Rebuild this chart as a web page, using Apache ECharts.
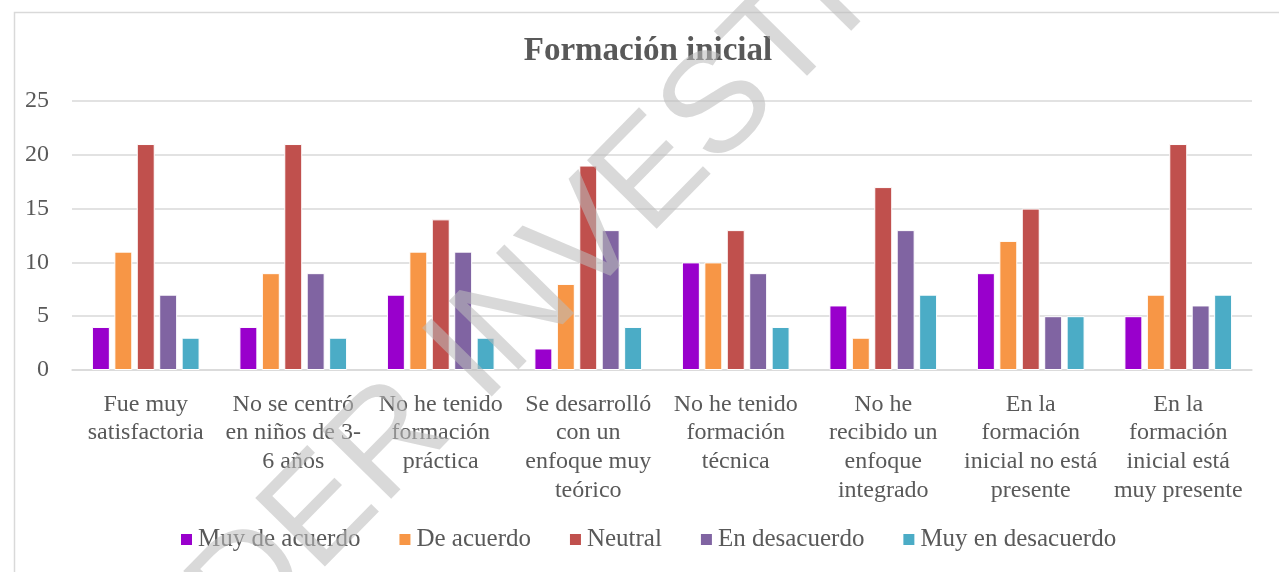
<!DOCTYPE html>
<html>
<head>
<meta charset="utf-8">
<script src="https://cdn.jsdelivr.net/npm/echarts@6/dist/echarts.min.js"></script>
<style>
html,body{margin:0;padding:0;background:#fff;}
#c{width:1279px;height:572px;}
</style>
</head>
<body>
<div id="c"></div>
<script>
const titleText = 'Formación inicial';
const categories = [
  'Fue muy\nsatisfactoria',
  'No se centró\nen niños de 3-\n6 años',
  'No he tenido\nformación\npráctica',
  'Se desarrolló\ncon un\nenfoque muy\nteórico',
  'No he tenido\nformación\ntécnica',
  'No he\nrecibido un\nenfoque\nintegrado',
  'En la\nformación\ninicial no está\npresente',
  'En la\nformación\ninicial está\nmuy presente'
];
const seriesNames = ['Muy de acuerdo', 'De acuerdo', 'Neutral', 'En desacuerdo', 'Muy en desacuerdo'];
const muyDeAcuerdo    = [4, 4, 7, 2, 10, 6, 9, 5];
const deAcuerdo       = [11, 9, 11, 8, 10, 3, 12, 7];
const neutral         = [21, 21, 14, 19, 13, 17, 15, 21];
const enDesacuerdo    = [7, 9, 11, 13, 9, 13, 5, 6];
const muyEnDesacuerdo = [3, 3, 3, 4, 4, 7, 5, 7];
const yTicks = [0, 5, 10, 15, 20, 25];
const watermarkText = 'DER INVESTIG';

const colors = ['#9900cc', '#f79646', '#c0504d', '#8064a2', '#4bacc6'];
const values = [muyDeAcuerdo, deAcuerdo, neutral, enDesacuerdo, muyEnDesacuerdo];
const FONT = '"Liberation Serif", serif';
const TXT = '#595959';

const chart = echarts.init(document.getElementById('c'), null, {renderer: 'canvas'});
chart.setOption({
  animation: false,
  backgroundColor: '#fff',
  color: colors,
  title: {
    text: titleText,
    left: 643, top: 30, textAlign: 'center',
    textStyle: {fontFamily: FONT, fontSize: 33, fontWeight: 'bold', color: TXT}
  },
  legend: {
    data: seriesNames,
    left: 174, top: 522,
    itemWidth: 13, itemHeight: 13, itemGap: 37,
    icon: 'rect',
    textStyle: {fontFamily: FONT, fontSize: 25, color: TXT, padding: [0,0,0,0]}
  },
  grid: {left: 72, right: 27, top: 101, bottom: 202, containLabel: false},
  xAxis: {
    type: 'category',
    data: categories,
    axisLine: {show: true, lineStyle: {color: '#d9d9d9', width: 1.5}},
    axisTick: {show: false},
    axisLabel: {interval: 0, margin: 20, fontFamily: FONT, fontSize: 24, lineHeight: 28.7, color: TXT, align: 'center'}
  },
  yAxis: {
    type: 'value', min: yTicks[0], max: yTicks[yTicks.length-1], interval: yTicks[1]-yTicks[0],
    axisLine: {show: false}, axisTick: {show: false},
    splitLine: {lineStyle: {color: '#d9d9d9', width: 1.5}},
    axisLabel: {margin: 23, fontFamily: FONT, fontSize: 24, color: TXT}
  },
  series: seriesNames.map((n, i) => ({
    name: n, type: 'bar', data: values[i],
    barGap: '25%', barCategoryGap: '27%',
    itemStyle: {color: colors[i], borderColor: '#ffffff', borderWidth: 1}
  })),
  graphic: [
    {type: 'rect', left: 12, top: 10, shape: {width: 1300, height: 600}, style: {fill: 'none', stroke: '#d9d9d9', lineWidth: 1.5}, z: -10, silent: true},
    {type: 'text', x: 568, y: 263, rotation: 45.5 * Math.PI / 180, z: 100, silent: true,
     style: {text: watermarkText, fontFamily: '"Liberation Sans", Arial, sans-serif', fontSize: 142, align: 'center', verticalAlign: 'middle', fill: 'rgba(187,187,187,0.56)'}}
  ]
});
</script>
</body>
</html>
